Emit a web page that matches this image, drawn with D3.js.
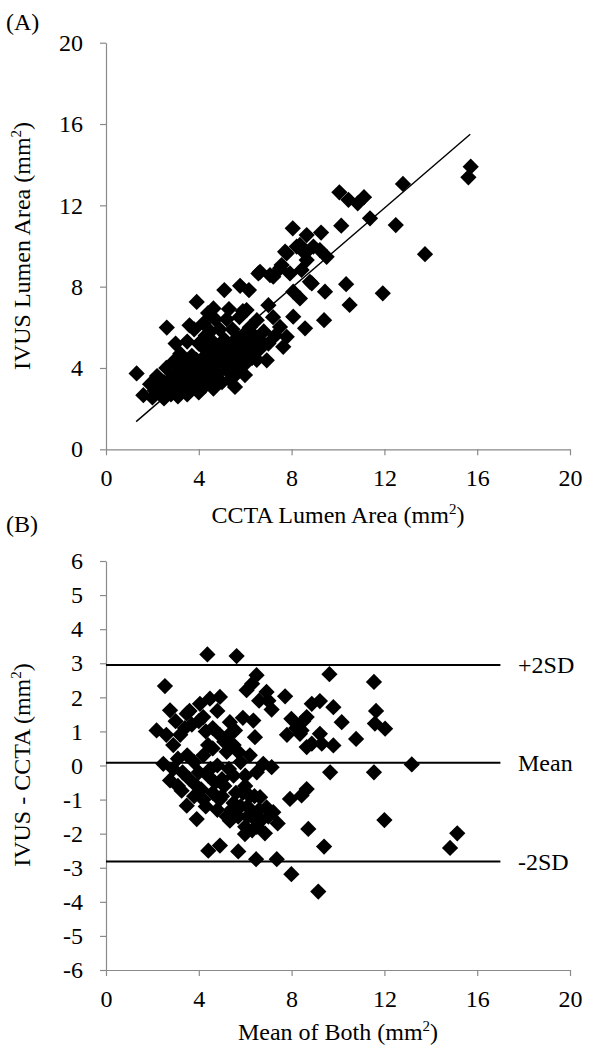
<!DOCTYPE html>
<html><head><meta charset="utf-8">
<script src="https://cdn.jsdelivr.net/npm/d3@7"></script>
<style>
body{margin:0;background:#fff}
svg{display:block}
text{font-family:"Liberation Serif","Times New Roman",serif;fill:#000}
</style>
</head><body>
<svg id="chart" width="592" height="1048"></svg>
<script>
// ---------- data ----------
const xTicks = [0, 4, 8, 12, 16, 20];
const yTicksA = [0, 4, 8, 12, 16, 20];
const yTicksB = [-6, -5, -4, -3, -2, -1, 0, 1, 2, 3, 4, 5, 6];

// Panel A: [CCTA lumen area, IVUS lumen area] (mm²)
const panelAPoints = [
  [15.72,13.9],[15.62,13.38],[12.8,13.05],[10.06,12.64],[10.45,12.27],[10.85,12.1],[11.12,12.4],
  [11.38,11.36],[10.14,11.0],[12.49,11.03],[13.75,9.6],[8.65,10.54],[9.27,10.66],[8.05,10.87],
  [8.94,9.97],[9.51,9.47],[8.58,9.64],[7.72,9.72],[8.22,9.97],[9.22,9.8],[8.36,10.05],[7.79,9.64],
  [8.65,9.31],[7.57,9.06],[7.5,8.9],[7.93,8.65],[8.43,8.82],[6.64,8.73],[7.07,8.57],[6.57,8.65],
  [7.21,8.49],[8.79,8.24],[8.87,8.16],[9.44,7.75],[10.35,8.12],[8.07,7.75],[8.36,7.42],[11.93,7.67],
  [10.5,7.1],[5.1,7.83],[5.78,8.04],[6.16,7.83],[3.91,7.25],[4.63,6.93],[7.0,7.09],[6.06,6.85],
  [8.07,6.52],[8.58,5.95],[9.4,6.35],[7.64,5.04],[7.5,6.02],[7.79,5.53],[7.3,5.6],[7.2,6.5],
  [1.32,3.73],[1.61,2.66],[1.9,3.2],[2.0,2.55],[2.2,3.6],[2.3,2.9],[2.5,2.5],[2.5,3.3],[2.62,5.99],[2.6,4.0],
  [2.8,2.7],[2.8,3.5],[2.9,4.3],[3.0,3.1],[3.1,2.6],[3.1,3.8],[3.2,4.7],[3.3,3.3],[3.3,2.9],
  [3.4,4.2],[3.5,2.7],[3.5,5.3],[3.6,3.6],[3.7,3.0],[3.7,4.6],[3.8,5.9],[3.85,4.0],[3.9,3.3],[4.0,5.2],[4.0,2.8],
  [4.1,4.4],[4.15,3.6],[4.2,6.2],[4.25,3.1],[4.3,5.6],[4.4,4.0],[4.45,4.8],[4.5,3.4],[4.6,5.3],[4.63,2.99],[4.7,4.3],[4.7,6.4],
  [4.8,3.7],[4.85,5.0],[4.9,5.9],[5.0,3.3],[5.0,4.4],[5.1,5.4],[5.2,3.9],[5.2,6.4],[5.3,4.8],[5.35,3.4],
  [5.45,5.9],[5.5,4.3],[5.56,3.07],[5.6,5.2],[5.7,3.8],[5.75,6.5],[5.8,4.7],[5.9,5.6],[5.99,3.65],[6.0,4.2],
  [6.1,5.0],[6.2,6.0],[6.3,4.5],[6.4,5.4],[6.5,6.35],[6.6,4.9],[6.64,5.37],[6.8,5.8],[6.93,4.38],[7.0,5.2],
  [2.1,2.9],[2.4,3.1],[2.7,3.2],[2.9,2.9],[3.0,3.6],[3.2,3.2],[3.4,3.8],[3.5,3.2],[3.6,4.2],[3.8,3.5],
  [3.9,4.4],[4.0,3.9],[4.1,3.2],[4.2,5.0],[4.3,4.4],[4.4,3.6],[4.5,5.8],[4.6,4.6],[4.8,4.2],[4.9,3.3],
  [5.0,5.1],[5.1,4.7],[5.2,4.2],[5.4,5.2],[5.5,3.6],[5.6,4.6],[5.7,5.5],[5.9,4.4],[6.0,5.3],[6.2,4.7],
  [6.3,5.7],[6.5,4.4],[6.7,5.2],[3.0,5.2],[3.6,6.1],[4.4,6.7],[5.3,6.9],[5.9,6.8]
];
// Fitted line end points (CCTA, IVUS)
const fitLineX = [1.3, 15.7];
const fitLineY = [1.36, 15.5];

// Panel B: [mean of both, IVUS - CCTA] (mm²)
const panelBPoints = [
  [4.37,3.26],[5.63,3.21],[2.54,2.33],
  [6.49,2.65],[6.06,2.21],[6.3,2.4],[6.92,2.16],[7.72,2.03],[7.14,1.64],[6.35,1.32],[6.42,0.83],
  [4.91,2.01],[4.48,1.96],[4.05,1.81],[2.76,1.62],[2.18,1.03],[3.48,1.52],[4.19,1.42],[5.34,1.27],
  [5.56,1.03],[3.0,1.3],[3.2,0.9],[3.7,1.2],[4.6,1.1],
  [2.47,0.05],[2.76,-0.44],[2.9,0.6],[3.1,0.2],[3.3,-0.2],[3.4,1.1],[3.6,-0.4],[3.8,0.1],[4.0,-0.2],
  [4.2,0.3],[4.3,1.0],[4.4,-0.3],[4.6,0.5],[4.8,0.0],[4.9,0.9],[5.0,-0.4],[5.2,0.4],[5.3,-0.1],[5.5,0.6],
  [5.8,0.1],[6.0,-0.3],[6.2,0.3],[6.78,0.05],[7.14,-0.05],[6.5,-0.2],
  [3.26,-0.74],[3.48,-1.18],[3.91,-1.57],[3.8,-0.9],[4.1,-0.7],[4.3,-1.2],[4.6,-0.8],[4.8,-1.3],[5.0,-0.9],
  [5.2,-1.5],[5.34,-1.62],[5.5,-1.1],[5.7,-1.5],[5.9,-0.8],[6.0,-1.8],[6.1,-1.2],[6.3,-1.5],[6.4,-0.9],
  [6.5,-1.8],[6.64,-0.93],[6.92,-1.23],[7.21,-1.37],[6.85,-1.99],[7.4,-1.7],[5.99,-2.01],[7.93,-0.98],
  [4.41,-2.5],[4.91,-2.35],[5.7,-2.52],[6.47,-2.75],[7.36,-2.75],[7.99,-3.19],[9.15,-3.7],
  [7.99,1.37],[8.2,1.1],[8.36,0.93],[8.5,1.3],[8.65,1.42],[8.87,0.64],[8.65,0.54],[8.43,1.03],[7.8,0.9],
  [8.87,1.81],[9.22,1.89],[9.63,2.68],[9.8,1.71],[10.16,1.27],[10.78,0.78],[9.22,0.93],[9.8,0.59],[9.3,0.64],
  [11.55,2.45],[11.64,1.6],[11.59,1.23],[12.03,1.08],[9.66,-0.2],[11.55,-0.2],[13.18,0.03],
  [8.65,-0.69],[8.43,-0.88],[12.0,-1.6],[8.72,-1.86],[9.4,-2.38],[15.14,-1.99],[14.83,-2.42],
  [2.6,0.9],[2.9,-0.1],[3.1,-0.6],[3.5,0.3],[3.6,1.6],[3.9,-0.6],[4.0,1.3],[4.2,-1.0],[4.4,0.6],[4.5,-0.1],
  [4.7,-0.5],[4.8,1.6],[4.9,-1.0],[5.1,0.7],[5.1,-0.6],[5.3,0.9],[5.4,-1.3],[5.5,-0.3],[5.6,-0.8],[5.7,0.4],
  [5.8,-1.2],[6.0,-0.6],[6.1,-1.5],[6.2,-0.9],[6.3,-1.9],[6.6,-1.3],[6.7,-1.6],[7.0,-1.5],[5.9,1.4],[6.6,1.9],[7.0,1.9]
];
const refLevels = [2.95, 0.08, -2.82];
const refLabels = ["+2SD", "Mean", "-2SD"];
const refExtent = [0, 17];

// ---------- drawing ----------
const svg = d3.select("#chart");
const FS = 24;
const axisColor = "#8a8a8a";

const xA = d3.scaleLinear().domain([0, 20]).range([106, 570]);
const yA = d3.scaleLinear().domain([0, 20]).range([449.3, 42.7]);
const xB = d3.scaleLinear().domain([0, 20]).range([106, 570]);
const yB = d3.scaleLinear().domain([-6, 6]).range([970, 561]);

function styleAxis(g) {
  g.attr("font-family", null).attr("font-size", null);
  g.select(".domain").attr("stroke", axisColor).attr("stroke-width", 1.2);
  g.selectAll(".tick line").attr("stroke", axisColor).attr("stroke-width", 1.2);
  g.selectAll(".tick text").attr("fill", "#000").style("font-size", FS + "px");
}

function drawAxes(x, y, yTicks) {
  svg.append("g")
    .attr("transform", `translate(0,${y.range()[0]})`)
    .call(d3.axisBottom(x).tickValues(xTicks).tickSize(6).tickSizeOuter(0).tickPadding(14).tickFormat(d => String(d)))
    .call(styleAxis);
  svg.append("g")
    .attr("transform", `translate(${x.range()[0]},0)`)
    .call(d3.axisLeft(y).tickValues(yTicks).tickSize(6).tickSizeOuter(0).tickPadding(17).tickFormat(d => String(d)))
    .call(styleAxis);
}

drawAxes(xA, yA, yTicksA);
drawAxes(xB, yB, yTicksB);

const diamond = d3.symbol().type(d3.symbolSquare).size(132)();

// Panel A fit line
svg.append("line")
  .attr("x1", xA(fitLineX[0])).attr("y1", yA(fitLineY[0]))
  .attr("x2", xA(fitLineX[1])).attr("y2", yA(fitLineY[1]))
  .attr("stroke", "#000").attr("stroke-width", 1.4);

svg.append("g").selectAll("path").data(panelAPoints).join("path")
  .attr("d", diamond)
  .attr("transform", d => `translate(${xA(d[0])},${yA(d[1])}) rotate(45)`)
  .attr("fill", "#000");

// Panel B reference lines
refLevels.forEach((v, i) => {
  svg.append("line")
    .attr("x1", xB(refExtent[0])).attr("x2", xB(refExtent[1]))
    .attr("y1", yB(v)).attr("y2", yB(v))
    .attr("stroke", "#000").attr("stroke-width", 2);
  svg.append("text")
    .attr("x", 518).attr("y", yB(v))
    .attr("dy", "0.34em")
    .style("font-size", FS + "px")
    .text(refLabels[i]);
});

svg.append("g").selectAll("path").data(panelBPoints).join("path")
  .attr("d", diamond)
  .attr("transform", d => `translate(${xB(d[0])},${yB(d[1])}) rotate(45)`)
  .attr("fill", "#000");

// Titles
function axisTitle(txt, x, y, rotate) {
  const t = svg.append("text")
    .attr("text-anchor", "middle")
    .style("font-size", FS + "px")
    .attr("transform", rotate ? `translate(${x},${y}) rotate(-90)` : `translate(${x},${y})`);
  t.append("tspan").text(txt + " (mm");
  t.append("tspan").attr("dy", -9).style("font-size", "15px").text("2");
  t.append("tspan").attr("dy", 9).text(")");
}
axisTitle("CCTA Lumen Area", 338, 523, false);
axisTitle("IVUS Lumen Area", 30, 246, true);
axisTitle("Mean of Both", 338, 1040, false);
axisTitle("IVUS - CCTA", 30, 765, true);

svg.append("text").attr("x", 6).attr("y", 30).style("font-size", FS + "px").text("(A)");
svg.append("text").attr("x", 6).attr("y", 532).style("font-size", FS + "px").text("(B)");
</script>
</body></html>
